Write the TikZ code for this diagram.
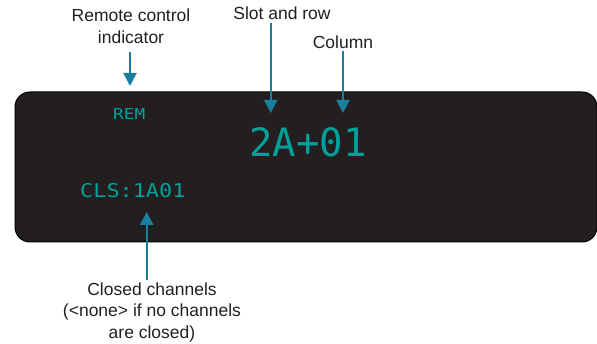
\documentclass[tikz,border=0pt]{standalone}
\usepackage{fontspec}
\usepackage{graphicx}
\setmainfont{Liberation Sans}
\newfontfamily\dispmono{DejaVu Sans Mono}
\usetikzlibrary{arrows.meta}
\definecolor{labelgray}{HTML}{231F20}
\definecolor{boxfill}{HTML}{231F20}
\definecolor{lcdteal}{HTML}{00A19A}
\definecolor{arrowblue}{HTML}{1A7F9E}
\begin{document}
\begin{tikzpicture}[x=1pt,y=-1pt,
  lbl/.style={font=\fontsize{17.5}{21.5}\selectfont, text=labelgray, align=center, inner sep=0pt},
  lcd/.style={text=lcdteal, inner sep=0pt, anchor=base west},
  pointer/.style={draw=arrowblue, line width=2pt, -{Triangle[width=13pt,length=13pt]}}]
\useasboundingbox (0,0) rectangle (597,344);
% display panel
\draw[fill=boxfill, draw=black, line width=1pt, rounded corners=15pt] (15,92) rectangle (597,242);
% display texts
\node[lcd] (rem) at (113,120) {\scalebox{1.18}[1]{\dispmono\fontsize{15}{15}\selectfont REM}};
\node[lcd] (main) at (249,157) {\dispmono\fontsize{39}{39}\selectfont 2A+01};
\node[lcd] (cls) at (80,197.3) {\scalebox{1.15}[1]{\dispmono\fontsize{19}{19}\selectfont CLS:1A01}};
% labels
\node[lbl] (remlbl) at (131,26) {Remote control\\indicator};
\node[lbl] (slotlbl) at (282,13) {Slot and row};
\node[lbl] (collbl) at (343,42) {Column};
\node[lbl] (clslbl) at (152,312) {Closed channels\\(<none> if no channels\\are closed)};
% arrow endpoints
\coordinate (remtail) at (130,52);
\coordinate (remtip) at (130,86);
\coordinate (slottail) at (270.7,23);
\coordinate (slottip) at (270.7,113);
\coordinate (coltail) at (343,51);
\coordinate (coltip) at (343,113);
\coordinate (clstail) at (146.7,280);
\coordinate (clstip) at (146.7,212);
% arrows
\draw[pointer] (remtail) -- (remtip);
\draw[pointer] (slottail) -- (slottip);
\draw[pointer] (coltail) -- (coltip);
\draw[pointer] (clstail) -- (clstip);
\end{tikzpicture}
\end{document}
